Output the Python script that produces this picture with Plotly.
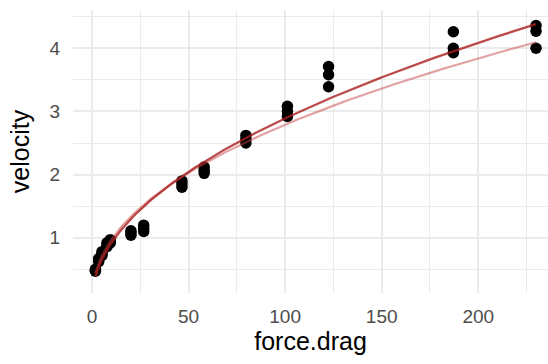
import numpy as np
import plotly.graph_objects as go

# Coffee-filter drop experiment: drag force vs terminal velocity
force_drag = [1.8, 1.8, 1.8, 3.5, 3.5, 3.5, 5.2, 5.2, 5.2, 7.8, 7.8, 7.8,
              9.5, 9.5, 9.5, 20.2, 20.2, 20.2, 26.8, 26.8, 26.8,
              46.6, 46.6, 46.6, 58.1, 58.1, 58.1, 79.7, 79.7, 79.7,
              101.2, 101.2, 101.2, 122.5, 122.5, 122.5,
              187.1, 187.1, 187.1, 229.9, 229.9, 229.9]
velocity = [0.47, 0.49, 0.50, 0.62, 0.65, 0.67, 0.72, 0.75, 0.78, 0.86, 0.89, 0.92,
            0.92, 0.95, 0.97, 1.04, 1.08, 1.11, 1.10, 1.15, 1.20,
            1.80, 1.85, 1.90, 2.02, 2.07, 2.12, 2.50, 2.56, 2.62,
            2.92, 3.00, 3.08, 3.39, 3.58, 3.71,
            3.93, 4.00, 4.26, 4.00, 4.27, 4.36]

x_ticks = [0, 50, 100, 150, 200]
y_ticks = [1, 2, 3, 4]

F = np.array(force_drag)
v = np.array(velocity)

# Model 1: velocity proportional to sqrt(force)  (least squares, no intercept)
a_sqrt = np.sum(v * np.sqrt(F)) / np.sum(F)
# Model 2: power law fitted on the log-log scale
b_pow, ln_a = np.polyfit(np.log(F), np.log(v), 1)

grid = np.linspace(F.min(), F.max(), 200)
fit_sqrt = a_sqrt * np.sqrt(grid)
fit_pow = np.exp(ln_a) * grid ** b_pow

fig = go.Figure()
fig.add_trace(go.Scatter(x=force_drag, y=velocity, mode="markers",
                         marker=dict(color="black", size=11.5, line=dict(width=0)),
                         showlegend=False))
fig.add_trace(go.Scatter(x=grid, y=fit_pow, mode="lines",
                         line=dict(color="rgba(200,70,70,0.5)", width=2.2),
                         showlegend=False))
fig.add_trace(go.Scatter(x=grid, y=fit_sqrt, mode="lines",
                         line=dict(color="rgba(170,30,30,0.8)", width=2.3),
                         showlegend=False))

grid_col = "#ebebeb"
fig.update_layout(
    width=548, height=364,
    margin=dict(l=73, r=0, t=10, b=71),
    paper_bgcolor="white", plot_bgcolor="white",
    font=dict(family="Liberation Sans, Arial, sans-serif"),
    xaxis=dict(
        range=[-9.8, 236.1], tickvals=x_ticks, ticktext=[str(t) for t in x_ticks],
        showgrid=True, gridcolor=grid_col, gridwidth=1.6,
        minor=dict(dtick=25, tick0=0, showgrid=True, gridcolor=grid_col, gridwidth=0.8),
        zeroline=False, showline=False, ticks="",
        ticklabelstandoff=10,
        tickfont=dict(size=19, color="#4d4d4d"),
        title=dict(text="force.drag", font=dict(size=25, color="black"), standoff=6),
    ),
    yaxis=dict(
        range=[0.126, 4.605], tickvals=y_ticks, ticktext=[str(t) for t in y_ticks],
        showgrid=True, gridcolor=grid_col, gridwidth=1.6,
        minor=dict(dtick=0.5, tick0=0, showgrid=True, gridcolor=grid_col, gridwidth=0.8),
        zeroline=False, showline=False, ticks="",
        ticklabelstandoff=12,
        tickfont=dict(size=19, color="#4d4d4d"),
        title=dict(text="velocity", font=dict(size=25, color="black"), standoff=12),
    ),
)

fig.write_html("out.html")
